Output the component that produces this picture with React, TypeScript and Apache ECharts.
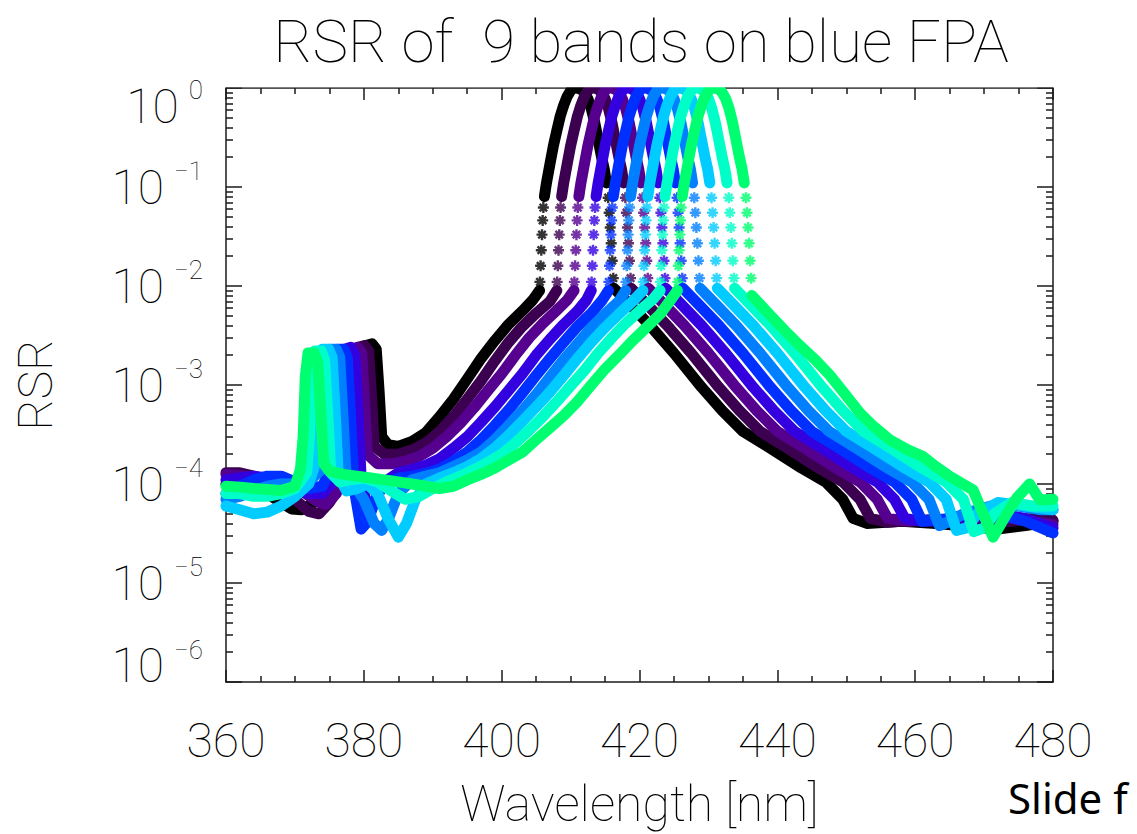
import { useEffect, useRef } from 'react';
import * as echarts from 'echarts';

const FONT = "Roboto, 'DejaVu Sans', sans-serif";
const THIN = 100;

const titleText = 'RSR of  9 bands on blue FPA';
const xAxisName = 'Wavelength [nm]';
const yAxisName = 'RSR';
const footText = 'Slide f';

const bandNames = ['Band 1', 'Band 2', 'Band 3', 'Band 4', 'Band 5', 'Band 6', 'Band 7', 'Band 8', 'Band 9'];
const bandColors = ['#000000', '#3c0050', '#55008f', '#3300e0', '#0030ff', '#0080ff', '#00ccff', '#00ffc8', '#00ff70'];

const xTicks = [360, 380, 400, 420, 440, 460, 480];
const yDecades = [0, -1, -2, -3, -4, -5, -6];

// ---- Band 1 (black) ----
const band1Left = [[360,1.0e-4],[362,9.5e-5],[364,9.0e-5],[366,8.0e-5],[368,6.5e-5],[369.5,5.6e-5],[371,5.5e-5],[372.5,6.3e-5],[374,7.8e-5],[376,1.0e-4],[378,1.4e-4],[379.5,2.6e-4],[379.9,1.5e-3],[380.3,2.5e-3],[381.2,2.6e-3],[381.8,2.3e-3],[382.2,9e-4],[382.6,3.0e-4],[383.5,2.5e-4],[385,2.4e-4],[387,2.7e-4],[389,3.3e-4],[391,4.8e-4],[393,7.2e-4],[395,1.15e-3],[397,1.85e-3],[399,2.8e-3],[401,4.1e-3],[403,5.6e-3],[404.5,7.2e-3],[405.5,9.0e-3]];
const band1Right = [[416.3,9.5e-3],[418.5,6.6e-3],[421.5,4.0e-3],[425,2.1e-3],[429,9.5e-4],[432,5.5e-4],[435,3.4e-4],[439,2.3e-4],[443.5,1.45e-4],[447,1.05e-4],[449.5,7.0e-5],[451,4.5e-5],[453,4.0e-5],[458,4.2e-5],[463,4.0e-5],[468,3.7e-5],[472,3.5e-5],[476,3.8e-5],[480,4.2e-5]];
const band1Arch = [[406.2,0.08],[406.5,0.11],[407.0,0.17],[407.5,0.26],[408.0,0.37],[408.5,0.52],[409.0,0.67],[409.5,0.82],[410.0,0.94],[410.5,1.0],[411.0,1.0],[411.5,0.97],[412.0,0.9],[412.5,0.78],[413.0,0.62],[413.5,0.45],[414.0,0.3],[414.5,0.2],[414.9,0.15],[415.2,0.11]];
const band1Edge = [[405.55,0.011],[405.65,0.016],[405.75,0.023],[405.85,0.033],[405.95,0.046],[406.05,0.062],[415.45,0.078],[415.6,0.055],[415.75,0.039],[415.9,0.027],[416.05,0.018],[416.2,0.012]];

// ---- Band 2 (dark purple) ----
const band2Left = [[360,1.3e-4],[362,1.3e-4],[364,1.2e-4],[366,1.1e-4],[368,9.0e-5],[370,7.0e-5],[372,5.3e-5],[373.5,5.0e-5],[375,6.5e-5],[377,1.05e-4],[378.4,2.2e-4],[378.8,1.4e-3],[379.2,2.4e-3],[380.1,2.5e-3],[380.7,2.2e-3],[381.1,8e-4],[381.5,2.4e-4],[383,2.0e-4],[385,2.0e-4],[387,2.2e-4],[389,2.6e-4],[391,3.4e-4],[393,4.8e-4],[395,7.2e-4],[397,1.1e-3],[399,1.75e-3],[401,2.7e-3],[403,3.9e-3],[405,5.3e-3],[407,7.0e-3],[408,9.0e-3]];
const band2Right = [[418.8,9.5e-3],[421,6.6e-3],[424,4.0e-3],[427.5,2.1e-3],[431.5,9.5e-4],[434.5,5.5e-4],[437.5,3.4e-4],[441.5,2.3e-4],[446,1.45e-4],[449.5,1.05e-4],[452,7.0e-5],[453.5,4.5e-5],[456,4.1e-5],[460,4.3e-5],[465,4.1e-5],[470,4.0e-5],[474,4.2e-5],[477,4.5e-5],[480,4.3e-5]];
const band2Arch = [[408.7,0.08],[409.0,0.11],[409.5,0.17],[410.0,0.26],[410.5,0.37],[411.0,0.52],[411.5,0.67],[412.0,0.82],[412.5,0.94],[413.0,1.0],[413.5,1.0],[414.0,0.97],[414.5,0.9],[415.0,0.78],[415.5,0.62],[416.0,0.45],[416.5,0.3],[417.0,0.2],[417.4,0.15],[417.7,0.11]];
const band2Edge = [[408.05,0.011],[408.15,0.016],[408.25,0.023],[408.35,0.033],[408.45,0.046],[408.55,0.062],[417.95,0.078],[418.1,0.055],[418.25,0.039],[418.4,0.027],[418.55,0.018],[418.7,0.012]];

// ---- Band 3 (purple) ----
const band3Left = [[360,1.25e-4],[363,1.2e-4],[366,1.1e-4],[369,1.0e-4],[371,8.5e-5],[373,6.8e-5],[374.5,6.2e-5],[376,8.0e-5],[377.4,2.0e-4],[377.8,1.3e-3],[378.2,2.3e-3],[379.1,2.4e-3],[379.7,2.1e-3],[380.1,7e-4],[380.5,2.0e-4],[382,1.6e-4],[384,1.6e-4],[386,1.7e-4],[388,1.9e-4],[390,2.3e-4],[392,3.0e-4],[394,4.1e-4],[396,5.9e-4],[398,8.8e-4],[400,1.3e-3],[402,2.0e-3],[404,3.0e-3],[406,4.2e-3],[408,5.7e-3],[409.5,7.2e-3],[410.5,9.0e-3]];
const band3Right = [[421.3,9.5e-3],[423.5,6.6e-3],[426.5,4.0e-3],[430,2.1e-3],[434,9.5e-4],[437,5.5e-4],[440,3.4e-4],[444,2.3e-4],[448.5,1.45e-4],[452,1.05e-4],[454.5,7.0e-5],[456,4.5e-5],[459,4.2e-5],[463,4.4e-5],[467,4.3e-5],[471,4.6e-5],[474,4.5e-5],[477,4.2e-5],[480,3.9e-5]];
const band3Arch = [[411.2,0.08],[411.5,0.11],[412.0,0.17],[412.5,0.26],[413.0,0.37],[413.5,0.52],[414.0,0.67],[414.5,0.82],[415.0,0.94],[415.5,1.0],[416.0,1.0],[416.5,0.97],[417.0,0.9],[417.5,0.78],[418.0,0.62],[418.5,0.45],[419.0,0.3],[419.5,0.2],[419.9,0.15],[420.2,0.11]];
const band3Edge = [[410.55,0.011],[410.65,0.016],[410.75,0.023],[410.85,0.033],[410.95,0.046],[411.05,0.062],[420.45,0.078],[420.6,0.055],[420.75,0.039],[420.9,0.027],[421.05,0.018],[421.2,0.012]];

// ---- Band 4 (violet) ----
const band4Left = [[360,1.1e-4],[362,1.15e-4],[364,1.2e-4],[366,1.15e-4],[368,1.0e-4],[370,9.0e-5],[372,8.0e-5],[374,8.0e-5],[375.8,1.1e-4],[376.4,2.3e-4],[376.8,1.3e-3],[377.2,2.3e-3],[378.1,2.4e-3],[378.7,2.0e-3],[379.1,6e-4],[379.6,1.2e-4],[380.5,5.5e-5],[381.5,6.5e-5],[383,1.05e-4],[385,1.3e-4],[387,1.4e-4],[389,1.55e-4],[391,1.8e-4],[393,2.3e-4],[395,3.0e-4],[397,4.2e-4],[399,6.0e-4],[401,8.8e-4],[403,1.3e-3],[405,2.0e-3],[407,2.9e-3],[409,4.1e-3],[411,5.6e-3],[412.3,7.2e-3],[413,9.0e-3]];
const band4Right = [[423.8,9.5e-3],[426,6.6e-3],[429,4.0e-3],[432.5,2.1e-3],[436.5,9.5e-4],[439.5,5.5e-4],[442.5,3.4e-4],[446.5,2.3e-4],[451,1.45e-4],[454.5,1.05e-4],[457,7.0e-5],[458.5,4.5e-5],[461,4.2e-5],[464,4.3e-5],[468,4.8e-5],[472,5.0e-5],[476,4.5e-5],[480,3.6e-5]];
const band4Arch = [[413.7,0.08],[414.0,0.11],[414.5,0.17],[415.0,0.26],[415.5,0.37],[416.0,0.52],[416.5,0.67],[417.0,0.82],[417.5,0.94],[418.0,1.0],[418.5,1.0],[419.0,0.97],[419.5,0.9],[420.0,0.78],[420.5,0.62],[421.0,0.45],[421.5,0.3],[422.0,0.2],[422.4,0.15],[422.7,0.11]];
const band4Edge = [[413.05,0.011],[413.15,0.016],[413.25,0.023],[413.35,0.033],[413.45,0.046],[413.55,0.062],[422.95,0.078],[423.1,0.055],[423.25,0.039],[423.4,0.027],[423.55,0.018],[423.7,0.012]];

// ---- Band 5 (blue) ----
const band5Left = [[360,8.0e-5],[362,9.5e-5],[364,1.1e-4],[366,1.2e-4],[368,1.2e-4],[370,1.05e-4],[372,9.0e-5],[374,9.5e-5],[375.1,1.4e-4],[375.5,3e-4],[375.8,1.3e-3],[376.2,2.3e-3],[377.1,2.3e-3],[377.6,1.9e-3],[378,6e-4],[378.6,9e-5],[379.6,3.5e-5],[380.6,4.2e-5],[381.8,7.5e-5],[383,1.0e-4],[385,1.15e-4],[387,1.2e-4],[389,1.28e-4],[391,1.42e-4],[393,1.7e-4],[395,2.1e-4],[397,2.8e-4],[399,3.9e-4],[401,5.6e-4],[403,8.3e-4],[405,1.25e-3],[407,1.85e-3],[409,2.7e-3],[411,3.9e-3],[413,5.3e-3],[414.6,7.2e-3],[415.5,9.0e-3]];
const band5Right = [[426.3,9.5e-3],[428.5,6.6e-3],[431.5,4.0e-3],[435,2.1e-3],[439,9.5e-4],[442,5.5e-4],[445,3.4e-4],[449,2.3e-4],[453.5,1.45e-4],[457,1.05e-4],[459.5,7.0e-5],[461,4.2e-5],[464,4.4e-5],[468,5.0e-5],[472,5.0e-5],[476,4.2e-5],[480,3.2e-5]];
const band5Arch = [[416.2,0.08],[416.5,0.11],[417.0,0.17],[417.5,0.26],[418.0,0.37],[418.5,0.52],[419.0,0.67],[419.5,0.82],[420.0,0.94],[420.5,1.0],[421.0,1.0],[421.5,0.97],[422.0,0.9],[422.5,0.78],[423.0,0.62],[423.5,0.45],[424.0,0.3],[424.5,0.2],[424.9,0.15],[425.2,0.11]];
const band5Edge = [[415.55,0.011],[415.65,0.016],[415.75,0.023],[415.85,0.033],[415.95,0.046],[416.05,0.062],[425.45,0.078],[425.6,0.055],[425.75,0.039],[425.9,0.027],[426.05,0.018],[426.2,0.012]];

// ---- Band 6 (azure) ----
const band6Left = [[360,7.0e-5],[362,7.5e-5],[364,8.5e-5],[366,9.5e-5],[368,1.0e-4],[370,1.0e-4],[372,1.05e-4],[373.8,1.4e-4],[374.3,3e-4],[374.7,1.3e-3],[375.1,2.3e-3],[376.0,2.3e-3],[376.5,1.9e-3],[376.9,6e-4],[377.4,1.3e-4],[378.5,1.0e-4],[380,7e-5],[381.5,4.0e-5],[382.6,3.4e-5],[383.6,4.5e-5],[385,8.0e-5],[387,1.1e-4],[389,1.2e-4],[391,1.3e-4],[393,1.5e-4],[395,1.75e-4],[397,2.1e-4],[399,2.8e-4],[401,3.9e-4],[403,5.5e-4],[405,8.0e-4],[407,1.2e-3],[409,1.8e-3],[411,2.6e-3],[413,3.8e-3],[415,5.2e-3],[417,7.0e-3],[418,9.0e-3]];
const band6Right = [[428.8,9.5e-3],[431,6.6e-3],[434,4.0e-3],[437.5,2.1e-3],[441.5,9.5e-4],[444.5,5.5e-4],[447.5,3.4e-4],[451.5,2.3e-4],[456,1.45e-4],[459.5,1.05e-4],[462,7.0e-5],[463.5,3.8e-5],[465,4.2e-5],[467,5.0e-5],[471,6.0e-5],[475,6.0e-5],[478,5.5e-5],[480,5.5e-5]];
const band6Arch = [[418.7,0.08],[419.0,0.11],[419.5,0.17],[420.0,0.26],[420.5,0.37],[421.0,0.52],[421.5,0.67],[422.0,0.82],[422.5,0.94],[423.0,1.0],[423.5,1.0],[424.0,0.97],[424.5,0.9],[425.0,0.78],[425.5,0.62],[426.0,0.45],[426.5,0.3],[427.0,0.2],[427.4,0.15],[427.7,0.11]];
const band6Edge = [[418.05,0.011],[418.15,0.016],[418.25,0.023],[418.35,0.033],[418.45,0.046],[418.55,0.062],[427.95,0.078],[428.1,0.055],[428.25,0.039],[428.4,0.027],[428.55,0.018],[428.7,0.012]];

// ---- Band 7 (cyan) ----
const band7Left = [[360,6.0e-5],[362,5.5e-5],[364,5.0e-5],[366,5.2e-5],[368,6.0e-5],[370,7.5e-5],[372,1.0e-4],[372.8,1.5e-4],[373.2,3e-4],[373.6,1.3e-3],[374.0,2.3e-3],[374.9,2.3e-3],[375.4,1.9e-3],[375.8,6e-4],[376.3,1.2e-4],[377.5,8.5e-5],[379,9.0e-5],[380.5,1.0e-4],[382,8.0e-5],[383.5,4.5e-5],[385,2.9e-5],[386.2,4.0e-5],[387.5,7.0e-5],[389,1.0e-4],[391,1.15e-4],[393,1.3e-4],[395,1.5e-4],[397,1.8e-4],[399,2.3e-4],[401,3.1e-4],[403,4.3e-4],[405,6.0e-4],[407,8.5e-4],[409,1.25e-3],[411,1.85e-3],[413,2.7e-3],[415,3.8e-3],[417,5.2e-3],[419,7.0e-3],[420.5,9.0e-3]];
const band7Right = [[431.3,9.5e-3],[433.5,6.6e-3],[436.5,4.0e-3],[440,2.1e-3],[444,9.5e-4],[447,5.5e-4],[450,3.4e-4],[454,2.3e-4],[458.5,1.45e-4],[462,1.05e-4],[464.5,7.0e-5],[466,3.4e-5],[467.5,3.6e-5],[469,5.0e-5],[472,6.5e-5],[476,6.0e-5],[480,5.5e-5]];
const band7Arch = [[421.2,0.08],[421.5,0.11],[422.0,0.17],[422.5,0.26],[423.0,0.37],[423.5,0.52],[424.0,0.67],[424.5,0.82],[425.0,0.94],[425.5,1.0],[426.0,1.0],[426.5,0.97],[427.0,0.9],[427.5,0.78],[428.0,0.62],[428.5,0.45],[429.0,0.3],[429.5,0.2],[429.9,0.15],[430.2,0.11]];
const band7Edge = [[420.55,0.011],[420.65,0.016],[420.75,0.023],[420.85,0.033],[420.95,0.046],[421.05,0.062],[430.45,0.078],[430.6,0.055],[430.75,0.039],[430.9,0.027],[431.05,0.018],[431.2,0.012]];

// ---- Band 8 (aquamarine) ----
const band8Left = [[360,8.0e-5],[362,8.0e-5],[364,7.5e-5],[366,7.5e-5],[368,8.0e-5],[370,9.0e-5],[371.7,1.3e-4],[372.1,3e-4],[372.5,1.3e-3],[372.9,2.2e-3],[373.8,2.2e-3],[374.3,1.8e-3],[374.7,6e-4],[375.2,1.3e-4],[376.5,1.05e-4],[378,1.1e-4],[380,1.15e-4],[382,1.05e-4],[384,8.5e-5],[386,7.0e-5],[388,7.5e-5],[390,9.0e-5],[392,1.05e-4],[394,1.2e-4],[396,1.4e-4],[398,1.65e-4],[400,2.0e-4],[402,2.6e-4],[404,3.5e-4],[406,4.8e-4],[408,6.8e-4],[410,9.8e-4],[412,1.4e-3],[414,2.1e-3],[416,3.0e-3],[418,4.2e-3],[420,5.6e-3],[422,7.4e-3],[423,9.0e-3]];
const band8Right = [[433.8,9.5e-3],[436,6.6e-3],[439,4.0e-3],[442.5,2.1e-3],[446.5,9.5e-4],[449.5,5.5e-4],[452.5,3.4e-4],[456.5,2.3e-4],[461,1.45e-4],[464.5,1.05e-4],[467,7.0e-5],[468.5,3.3e-5],[470,3.6e-5],[471.5,5.0e-5],[474,6.5e-5],[477,6.0e-5],[480,6.0e-5]];
const band8Arch = [[423.7,0.08],[424.0,0.11],[424.5,0.17],[425.0,0.26],[425.5,0.37],[426.0,0.52],[426.5,0.67],[427.0,0.82],[427.5,0.94],[428.0,1.0],[428.5,1.0],[429.0,0.97],[429.5,0.9],[430.0,0.78],[430.5,0.62],[431.0,0.45],[431.5,0.3],[432.0,0.2],[432.4,0.15],[432.7,0.11]];
const band8Edge = [[423.05,0.011],[423.15,0.016],[423.25,0.023],[423.35,0.033],[423.45,0.046],[423.55,0.062],[432.95,0.078],[433.1,0.055],[433.25,0.039],[433.4,0.027],[433.55,0.018],[433.7,0.012]];

// ---- Band 9 (spring green) ----
const band9Left = [[360,9.5e-5],[362,9.3e-5],[364,9.0e-5],[366,8.8e-5],[368,8.6e-5],[370,9.5e-5],[370.8,1.4e-4],[371.2,3e-4],[371.5,1.2e-3],[371.9,2.1e-3],[372.8,2.1e-3],[373.3,1.7e-3],[373.7,6e-4],[374.2,1.6e-4],[375,1.35e-4],[377,1.25e-4],[379,1.2e-4],[381,1.15e-4],[383,1.1e-4],[385,1.05e-4],[387,1.0e-4],[389,9.5e-5],[391,9.0e-5],[393,9.5e-5],[395,1.1e-4],[397,1.25e-4],[399,1.45e-4],[401,1.75e-4],[403,2.1e-4],[405,2.8e-4],[407,3.7e-4],[409,4.9e-4],[411,6.8e-4],[413,1.0e-3],[415,1.45e-3],[417,2.0e-3],[419,2.8e-3],[421,3.8e-3],[423,5.2e-3],[424.5,7.2e-3],[425.5,9.0e-3]];
const band9Right = [[436.3,8.0e-3],[438.5,5.5e-3],[441,3.6e-3],[443,2.6e-3],[445.5,1.8e-3],[447.6,1.26e-3],[450,7.8e-4],[452,5.2e-4],[454,3.8e-4],[456.3,2.8e-4],[459,2.2e-4],[461.1,1.9e-4],[463,1.5e-4],[465,1.2e-4],[468.4,8.7e-5],[471.3,2.9e-5],[473.3,5.0e-5],[474.8,7.3e-5],[476.6,1.0e-4],[478.1,6.9e-5],[480,7.0e-5]];
const band9Arch = [[426.2,0.08],[426.5,0.11],[427.0,0.17],[427.5,0.26],[428.0,0.37],[428.5,0.52],[429.0,0.67],[429.5,0.82],[430.0,0.94],[430.5,1.0],[431.0,1.0],[431.5,0.97],[432.0,0.9],[432.5,0.78],[433.0,0.62],[433.5,0.45],[434.0,0.3],[434.5,0.2],[434.9,0.15],[435.2,0.11]];
const band9Edge = [[425.55,0.011],[425.65,0.016],[425.75,0.023],[425.85,0.033],[425.95,0.046],[426.05,0.062],[435.45,0.078],[435.6,0.055],[435.75,0.039],[435.9,0.027],[436.05,0.018],[436.2,0.012]];

const bandLeft = [band1Left, band2Left, band3Left, band4Left, band5Left, band6Left, band7Left, band8Left, band9Left];
const bandRight = [band1Right, band2Right, band3Right, band4Right, band5Right, band6Right, band7Right, band8Right, band9Right];
const bandArch = [band1Arch, band2Arch, band3Arch, band4Arch, band5Arch, band6Arch, band7Arch, band8Arch, band9Arch];
const bandEdge = [band1Edge, band2Edge, band3Edge, band4Edge, band5Edge, band6Edge, band7Edge, band8Edge, band9Edge];

const ASTERISK = 'path://M5 0L5 10M0 5L10 5M1.6 1.6L8.4 8.4M8.4 1.6L1.6 8.4';

const GRID = { left: 226, top: 88, width: 827, height: 594 };

function buildOption() {
  const series: any[] = [];
  bandNames.forEach((name, i) => {
    const color = bandColors[i];
    const line = (data: number[][]) => ({
      type: 'line',
      name,
      data,
      showSymbol: false,
      symbol: 'none',
      silent: true,
      lineStyle: { color, width: 11, join: 'round', cap: 'round' },
      itemStyle: { color },
    });
    series.push(line(bandLeft[i]));
    series.push(line(bandRight[i]));
    series.push(line(bandArch[i]));
    series.push({
      type: 'scatter',
      name,
      data: bandEdge[i],
      symbol: ASTERISK,
      symbolSize: 11,
      silent: true,
      itemStyle: { color, borderColor: color, borderWidth: 2.4 },
    });
  });

  const axisLineStyle = { color: '#1a1a1a', width: 1.5 };
  const xBase = {
    type: 'value',
    min: xTicks[0],
    max: xTicks[xTicks.length - 1],
    interval: xTicks[1] - xTicks[0],
    splitLine: { show: false },
    axisLine: { show: true, onZero: false, lineStyle: axisLineStyle },
    axisTick: { show: true, inside: true, length: 12, lineStyle: axisLineStyle },
    minorTick: { show: true, splitNumber: 4, length: 6, lineStyle: axisLineStyle },
    minorSplitLine: { show: false },
  };
  const yBase = {
    type: 'log',
    logBase: 10,
    min: Math.pow(10, yDecades[yDecades.length - 1]),
    max: Math.pow(10, yDecades[0]),
    splitLine: { show: false },
    axisLine: { show: true, onZero: false, lineStyle: axisLineStyle },
    axisTick: { show: true, inside: true, length: 16, lineStyle: axisLineStyle },
    minorTick: { show: true, splitNumber: 9, length: 7, lineStyle: axisLineStyle },
    minorSplitLine: { show: false },
  };
  const numStyle = { fontSize: 48, lineHeight: 56, fontFamily: FONT, fontWeight: THIN, color: '#000' };
  const supStyle = { fontSize: 26, lineHeight: 26, fontFamily: FONT, fontWeight: THIN, color: '#000' };

  return {
    animation: false,
    backgroundColor: '#ffffff',
    title: {
      text: titleText,
      left: 636,
      top: 6,
      textAlign: 'center',
      textStyle: { fontSize: 60, fontWeight: THIN, fontFamily: FONT, color: '#000' },
    },
    grid: { ...GRID, containLabel: false },
    xAxis: [
      {
        ...xBase,
        position: 'bottom',
        name: xAxisName,
        nameLocation: 'middle',
        nameGap: 97,
        nameTextStyle: { fontSize: 50, fontFamily: FONT, fontWeight: THIN, color: '#000' },
        axisLabel: { margin: 34, fontSize: 48, fontFamily: FONT, fontWeight: THIN, color: '#000' },
      },
      { ...xBase, position: 'top', axisLabel: { show: false } },
    ],
    yAxis: [
      {
        ...yBase,
        position: 'left',
        name: yAxisName,
        nameLocation: 'middle',
        nameGap: 167,
        nameTextStyle: { fontSize: 48, fontFamily: FONT, fontWeight: THIN, color: '#000' },
        axisLabel: {
          margin: 23,
          formatter: (v: number) => {
            const e = Math.round(Math.log10(v));
            const sup = e === 0 ? '0' : '\u2212' + -e;
            if (e === yDecades[0]) return `{nt|10}{st|${sup}}`;
            if (e === yDecades[yDecades.length - 1]) return `{nb|10}{sb|${sup}}`;
            return `{n|10}{s|${sup}}`;
          },
          rich: {
            n: { ...numStyle },
            s: { ...supStyle, padding: [0, 0, 32, 10] },
            nt: { ...numStyle, padding: [36, 0, 0, 0] },
            st: { ...supStyle, padding: [4, 0, 0, 10] },
            nb: { ...numStyle, padding: [0, 0, 34, 0] },
            sb: { ...supStyle, padding: [0, 0, 64, 10] },
          },
        },
      },
      { ...yBase, position: 'right', axisLabel: { show: false } },
    ],
    graphic: [
      {
        type: 'rect',
        z: 100,
        silent: true,
        shape: { x: GRID.left - 8, y: 72, width: GRID.width + 16, height: GRID.top - 72 - 0.8 },
        style: { fill: '#ffffff' },
      },
      {
        type: 'text',
        left: 1008,
        top: 776,
        style: { text: footText, fontSize: 42, fontFamily: "'Noto Sans', 'Open Sans', sans-serif", fill: '#000' },
      },
    ],
    series,
  };
}

export default function App() {
  const ref = useRef<HTMLDivElement>(null);
  useEffect(() => {
    if (!ref.current) return;
    const chart = echarts.init(ref.current, undefined, { renderer: 'svg' });
    chart.setOption(buildOption() as any);
    return () => chart.dispose();
  }, []);
  return (
    <div
      ref={ref}
      style={{ position: 'fixed', left: 0, top: 0, width: 1137, height: 834, background: '#fff' }}
    />
  );
}
